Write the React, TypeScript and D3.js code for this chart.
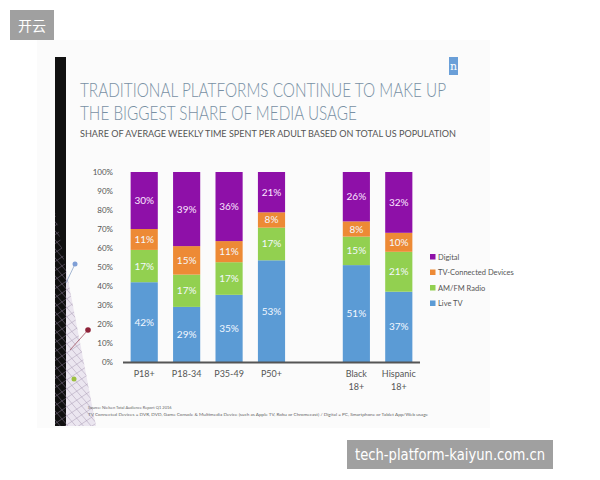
import { useRef, useEffect } from 'react';
import { select, scaleBand, scaleLinear, stack, stackOffsetExpand, axisLeft, range } from 'd3';

const categories = ['P18+', 'P18-34', 'P35-49', 'P50+', '', 'Black 18+', 'Hispanic 18+'];
const categoryLines = [['P18+'], ['P18-34'], ['P35-49'], ['P50+'], [], ['Black', '18+'], ['Hispanic', '18+']];
const seriesNames = ['Live TV', 'AM/FM Radio', 'TV-Connected Devices', 'Digital'];
const liveTv = [42, 29, 35, 53, null, 51, 37];
const amFm = [17, 17, 17, 17, null, 15, 21];
const tvConnected = [11, 15, 11, 8, null, 8, 10];
const digital = [30, 39, 36, 21, null, 26, 32];
const colors = ['#5b9bd5', '#92d050', '#ed8a35', '#8e10a8'];
const yTicks = range(0, 1.01, 0.1);

const W = 600;
const H = 480;

const App = () => {
  const ref = useRef<SVGSVGElement>(null);

  useEffect(() => {
    if (!ref.current) return;
    const svg = select(ref.current);
    svg.selectAll('*').remove();
    const font = 'Lato, "Open Sans", sans-serif';

    // page + slide
    svg.append('rect').attr('width', W).attr('height', H).attr('fill', '#fff');
    svg.append('rect').attr('x', 37).attr('y', 40).attr('width', 453).attr('height', 388).attr('fill', '#fbfbfb');

    // left decoration (wire triangle next to the dark strip)
    const defs = svg.append('defs');
    defs.append('clipPath').attr('id', 'tri').append('path').attr('d', 'M55,212 L96,426 L55,426 Z');
    const deco = svg.append('g');
    deco.append('path').attr('d', 'M55,212 L96,426 L55,426 Z').attr('fill', '#ece6f0');
    deco.append('rect').attr('x', 55).attr('y', 57).attr('width', 11).attr('height', 369).attr('fill', '#111');
    const hatch = deco.append('g').attr('clip-path', 'url(#tri)').attr('stroke', '#9a8aa8').attr('stroke-width', 0.5).attr('opacity', 0.85);
    range(0, 30).forEach((i) => {
      const y0 = 180 + i * 9;
      hatch.append('line').attr('x1', 50).attr('y1', y0).attr('x2', 110).attr('y2', y0 + 70);
      hatch.append('line').attr('x1', 50).attr('y1', y0 + 40).attr('x2', 110).attr('y2', y0);
    });
    deco.append('line').attr('x1', 66).attr('y1', 283).attr('x2', 75).attr('y2', 264).attr('stroke', '#8fa6c8').attr('stroke-width', 0.8);
    deco.append('circle').attr('cx', 75).attr('cy', 264).attr('r', 2.5).attr('fill', '#7f9fd6');
    deco.append('line').attr('x1', 70).attr('y1', 350).attr('x2', 88).attr('y2', 330).attr('stroke', '#a05060').attr('stroke-width', 0.8);
    deco.append('circle').attr('cx', 88).attr('cy', 330).attr('r', 2.8).attr('fill', '#8e2238');
    deco.append('circle').attr('cx', 74).attr('cy', 379).attr('r', 2.5).attr('fill', '#9cc040');

    // nielsen logo
    svg.append('rect').attr('x', 449).attr('y', 57).attr('width', 9).attr('height', 18).attr('fill', '#6a9fd8');
    svg.append('text').attr('x', 453.5).attr('y', 70).attr('text-anchor', 'middle').attr('font-family', 'Georgia, "DejaVu Serif", serif')
      .attr('font-size', 11).attr('fill', '#fff').text('n');

    // titles
    const title = svg.append('g').attr('font-family', font).attr('font-weight', 300).attr('fill', '#7890a4').attr('font-size', 20);
    title.append('text').attr('x', 80).attr('y', 97).attr('textLength', 366).attr('lengthAdjust', 'spacingAndGlyphs')
      .text('TRADITIONAL PLATFORMS CONTINUE TO MAKE UP');
    title.append('text').attr('x', 80).attr('y', 120).attr('textLength', 277).attr('lengthAdjust', 'spacingAndGlyphs')
      .text('THE BIGGEST SHARE OF MEDIA USAGE');
    svg.append('text').attr('x', 80).attr('y', 137).attr('font-family', font).attr('font-size', 10).attr('fill', '#555')
      .attr('textLength', 376).attr('lengthAdjust', 'spacingAndGlyphs')
      .text('SHARE OF AVERAGE WEEKLY TIME SPENT PER ADULT BASED ON TOTAL US POPULATION');

    // chart
    const x = scaleBand().domain(categories.map((c, i) => `${i}`)).range([123, 420]).paddingInner(0.36).paddingOuter(0.18);
    const y = scaleLinear().domain([0, 1]).range([362, 172]);

    const rows = categories.map((c, i) => ({
      key: `${i}`,
      'Live TV': liveTv[i] ?? 0,
      'AM/FM Radio': amFm[i] ?? 0,
      'TV-Connected Devices': tvConnected[i] ?? 0,
      Digital: digital[i] ?? 0,
    }));
    const raw = [liveTv, amFm, tvConnected, digital];
    const valid = rows.filter((r, i) => liveTv[i] !== null);
    const layers = stack<any>().keys(seriesNames).offset(stackOffsetExpand)(valid);

    const yAxis = axisLeft(y).tickValues(yTicks).tickSize(0).tickPadding(10).tickFormat((d: any) => `${Math.round(d * 100)}%`);
    const ya = svg.append('g').attr('transform', 'translate(123,0)').call(yAxis);
    ya.select('.domain').remove();
    ya.selectAll('text').attr('font-family', font).attr('font-size', 8).attr('fill', '#555');

    layers.forEach((layer, li) => {
      const g = svg.append('g');
      layer.forEach((d: any) => {
        const key = d.data.key;
        const idx = +key;
        g.append('rect').attr('x', x(key)!).attr('width', x.bandwidth())
          .attr('y', y(d[1])).attr('height', y(d[0]) - y(d[1])).attr('fill', colors[li]);
        g.append('text').attr('x', x(key)! + x.bandwidth() / 2).attr('y', (y(d[0]) + y(d[1])) / 2 + 3.5)
          .attr('text-anchor', 'middle').attr('font-family', font).attr('font-size', 10)
          .attr('fill', li === 3 ? '#fbe8ff' : '#f4f8ff').text(`${raw[li][idx]}%`);
      });
    });

    svg.append('line').attr('x1', 123).attr('x2', 420).attr('y1', 362.5).attr('y2', 362.5).attr('stroke', '#555').attr('stroke-width', 2.2);

    categoryLines.forEach((lines, i) => {
      lines.forEach((t, j) => {
        svg.append('text').attr('x', x(`${i}`)! + x.bandwidth() / 2).attr('y', 377 + j * 13)
          .attr('text-anchor', 'middle').attr('font-family', font).attr('font-size', 9).attr('fill', '#555').text(t);
      });
    });

    // legend
    const legendOrder = [3, 2, 1, 0];
    legendOrder.forEach((si, j) => {
      const ly = 257 + j * 15.5;
      svg.append('rect').attr('x', 430).attr('y', ly - 3).attr('width', 5.5).attr('height', 5.5).attr('fill', colors[si]);
      svg.append('text').attr('x', 438).attr('y', ly + 2.5).attr('font-family', font).attr('font-size', 7.5)
        .attr('fill', '#555').text(seriesNames[si]);
    });

    // footnotes
    const foot = svg.append('g').attr('font-family', font).attr('font-size', 4).attr('fill', '#666');
    foot.append('text').attr('x', 88).attr('y', 409).text('Source: Nielsen Total Audience Report Q1 2016');
    foot.append('text').attr('x', 88).attr('y', 416).attr('textLength', 340).attr('lengthAdjust', 'spacingAndGlyphs')
      .text('TV Connected Devices = DVR, DVD, Game Console & Multimedia Device (such as Apple TV, Roku or Chromecast) / Digital = PC, Smartphone or Tablet App/Web usage');

    // watermarks
    svg.append('rect').attr('x', 10).attr('y', 10).attr('width', 44).attr('height', 30).attr('fill', '#a0a0a0');
    svg.append('text').attr('x', 32).attr('y', 30.5).attr('text-anchor', 'middle').attr('font-family', '"Noto Sans CJK SC", sans-serif')
      .attr('font-size', 14).attr('fill', '#fff').text('开云');
    svg.append('rect').attr('x', 347).attr('y', 440).attr('width', 206).attr('height', 29).attr('fill', '#a0a0a0');
    svg.append('text').attr('x', 450).attr('y', 460).attr('text-anchor', 'middle').attr('font-family', '"DejaVu Sans", sans-serif')
      .attr('font-size', 15).attr('fill', '#fff').attr('textLength', 190).attr('lengthAdjust', 'spacingAndGlyphs')
      .text('tech-platform-kaiyun.com.cn');
  }, []);

  return (
    <svg ref={ref} width={W} height={H} style={{ position: 'absolute', left: 0, top: 0 }} />
  );
};

export default App;
